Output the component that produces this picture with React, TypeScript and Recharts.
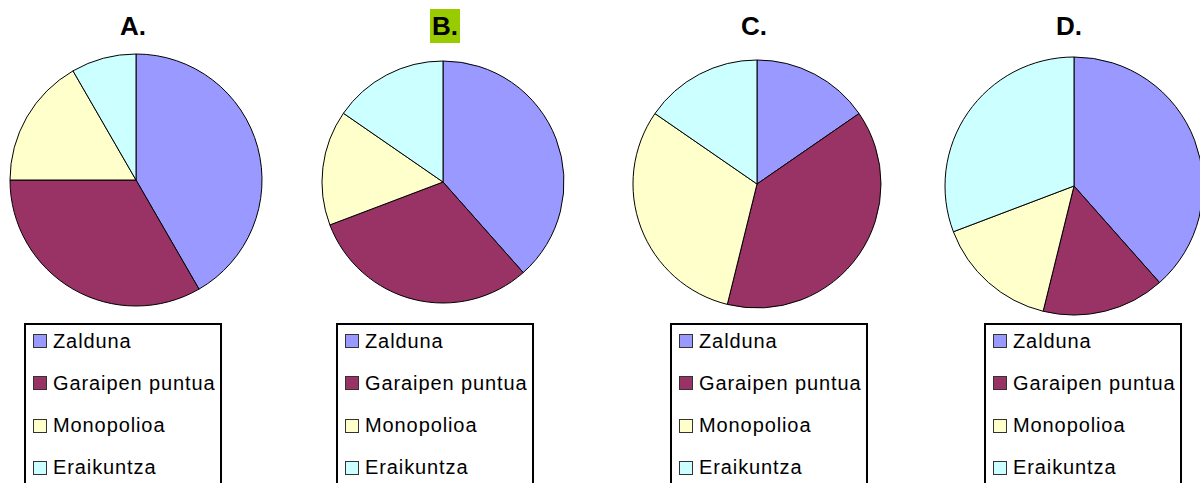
import { PieChart, Pie, Cell } from 'recharts';

const categories = ['Zalduna', 'Garaipen puntua', 'Monopolioa', 'Eraikuntza'];
const colors = ['#9999FF', '#993366', '#FFFFCC', '#CCFFFF'];

const valuesA = [5, 4, 2, 1];
const valuesB = [5, 4, 2, 2];
const valuesC = [2, 5, 4, 2];
const valuesD = [5, 2, 2, 4];

const titles = ['A.', 'B.', 'C.', 'D.'];

const pies = [
  { title: titles[0], values: valuesA, cx: 136, cy: 180, r: 126, titleX: 133, legendX: 24, highlight: false },
  { title: titles[1], values: valuesB, cx: 443, cy: 182, r: 121, titleX: 445, legendX: 336, highlight: true },
  { title: titles[2], values: valuesC, cx: 757, cy: 184, r: 124, titleX: 754, legendX: 670, highlight: false },
  { title: titles[3], values: valuesD, cx: 1074, cy: 186, r: 129, titleX: 1069, legendX: 984, highlight: false },
];

const font = '"Liberation Sans", Arial, sans-serif';

function Legend({ left }: { left: number }) {
  return (
    <div
      style={{
        position: 'absolute',
        left,
        top: 323,
        width: 198,
        height: 180,
        border: '2px solid #000',
        boxSizing: 'border-box',
        background: '#fff',
      }}
    >
      {categories.map((c, i) => (
        <div
          key={c}
          style={{
            position: 'absolute',
            left: 7,
            top: 4 + i * 42.3,
            height: 24,
            display: 'flex',
            alignItems: 'center',
            whiteSpace: 'nowrap',
            fontFamily: font,
            fontSize: 20,
            letterSpacing: 0.9,
            color: '#000',
          }}
        >
          <span
            style={{
              display: 'inline-block',
              width: 12,
              height: 12,
              background: colors[i],
              border: '1px solid #333',
              marginRight: 6,
            }}
          />
          {c}
        </div>
      ))}
    </div>
  );
}

export default function App() {
  return (
    <div style={{ position: 'absolute', left: 0, top: 0, width: 1200, height: 483, overflow: 'hidden', background: '#fff' }}>
      <div style={{ position: 'absolute', left: 0, top: 0 }}>
        <PieChart width={1200} height={483} margin={{ top: 0, right: 0, bottom: 0, left: 0 }}>
          {pies.map((p) => (
            <Pie
              key={p.title}
              data={categories.map((name, i) => ({ name, value: p.values[i] }))}
              dataKey="value"
              nameKey="name"
              cx={p.cx}
              cy={p.cy}
              outerRadius={p.r}
              startAngle={90}
              endAngle={-270}
              stroke="#000"
              strokeWidth={1}
              isAnimationActive={false}
              label={false}
              labelLine={false}
            >
              {categories.map((name, i) => (
                <Cell key={name} fill={colors[i]} />
              ))}
            </Pie>
          ))}
        </PieChart>
      </div>
      {pies.map((p) => (
        <div
          key={'t' + p.title}
          style={{
            position: 'absolute',
            left: p.titleX - 15,
            top: 9,
            width: 30,
            height: 34,
            lineHeight: '34px',
            textAlign: 'center',
            fontFamily: font,
            fontWeight: 'bold',
            fontSize: 26,
            background: p.highlight ? '#99CC00' : 'transparent',
            color: '#000',
          }}
        >
          {p.title}
        </div>
      ))}
      {pies.map((p) => (
        <Legend key={'l' + p.title} left={p.legendX} />
      ))}
    </div>
  );
}
